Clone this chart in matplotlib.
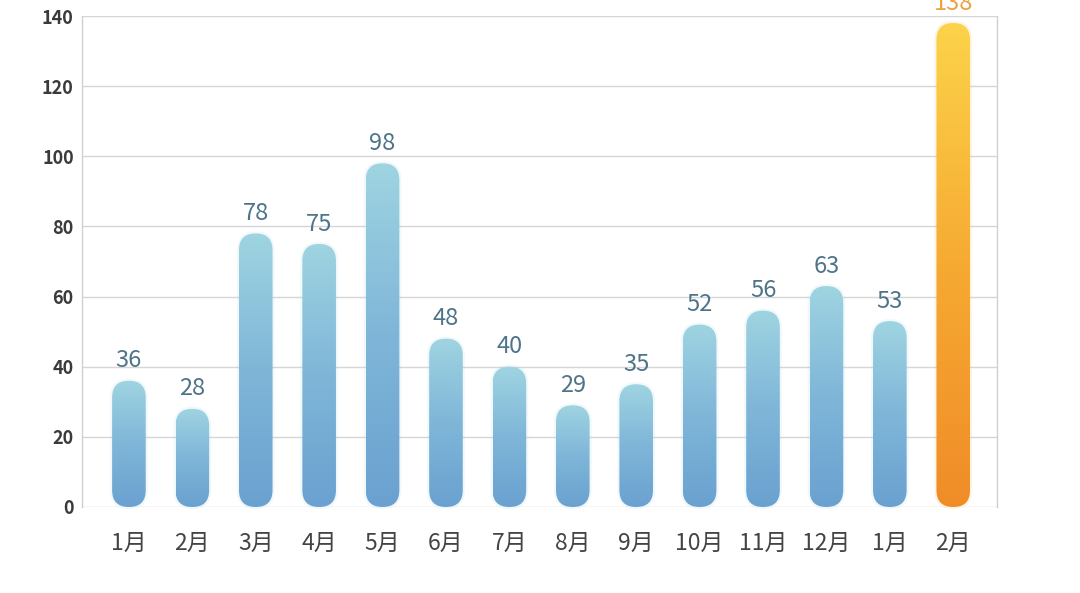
import matplotlib
matplotlib.use('Agg')
import matplotlib.pyplot as plt
import numpy as np
from matplotlib.patches import FancyBboxPatch
from matplotlib.colors import LinearSegmentedColormap

plt.rcParams['font.family'] = ['Noto Sans CJK SC', 'DejaVu Sans']

categories = ['1月', '2月', '3月', '4月', '5月', '6月', '7月', '8月', '9月',
              '10月', '11月', '12月', '1月', '2月']
values = [36, 28, 78, 75, 98, 48, 40, 29, 35, 52, 56, 63, 53, 138]
highlight = [False] * 13 + [True]
yticks = [0, 20, 40, 60, 80, 100, 120, 140]

W, H = 1080, 593
fig = plt.figure(figsize=(W / 100, H / 100), dpi=100)
L, R, T, B = 82, 997, 16, 507
ax = fig.add_axes([L / W, (H - B) / H, (R - L) / W, (B - T) / H])

xlim = (-0.74, len(values) - 1 + 0.69)
ylim = (0, 140)

px_x = (xlim[1] - xlim[0]) / (R - L)
px_y = (ylim[1] - ylim[0]) / (B - T)
aspect = px_y / px_x

blue_cmap = LinearSegmentedColormap.from_list('b', ['#6aa1d0', '#7fb6d8', '#9fd4e1'])
orange_cmap = LinearSegmentedColormap.from_list('o', ['#f08c28', '#f6aa32', '#fcd34a'])
grad = np.linspace(0, 1, 256).reshape(-1, 1)

bw = 0.53
r = bw / 2
for i, (v, h) in enumerate(zip(values, highlight)):
    x0 = i - bw / 2
    # soft halo
    halo_pad = 2.0 * px_x
    halo = FancyBboxPatch((x0 - halo_pad, -2 * px_y), bw + 2 * halo_pad, v + 4 * px_y,
                          boxstyle=f"round,pad=0,rounding_size={r + halo_pad}",
                          mutation_aspect=aspect,
                          fc=('#f7c040' if h else '#9fd0e6'), ec='none', alpha=0.15,
                          zorder=2, clip_on=False)
    ax.add_patch(halo)
    patch = FancyBboxPatch((x0, 0), bw, v,
                           boxstyle=f"round,pad=0,rounding_size={r}",
                           mutation_aspect=aspect, fc='none', ec='none', zorder=3)
    ax.add_patch(patch)
    im = ax.imshow(grad, extent=(x0, x0 + bw, 0, v), origin='lower', aspect='auto',
                   cmap=orange_cmap if h else blue_cmap, zorder=3, interpolation='bilinear')
    im.set_clip_path(patch)
    ax.annotate(str(v), (i, v), xytext=(0, 6), textcoords='offset points',
                ha='center', va='bottom', fontsize=17,
                color=('#eea040' if h else '#4e7489'), zorder=5, annotation_clip=False)

ax.set_xlim(*xlim)
ax.set_ylim(*ylim)

ax.set_yticks(yticks)
ax.set_yticklabels([str(t) for t in yticks], fontsize=13, fontweight='bold', color='#3a3a3a')
ax.set_xticks(range(len(categories)))
ax.set_xticklabels(categories, fontsize=16.5, color='#444444')
ax.tick_params(axis='y', length=0, pad=6)
ax.tick_params(axis='x', length=0, pad=18)

ax.grid(axis='y', color='#d6d6d6', lw=1)
ax.set_axisbelow(True)
for s in ['top', 'bottom']:
    ax.spines[s].set_visible(False)
for s in ['left', 'right']:
    ax.spines[s].set_color('#d0d0d0')
    ax.spines[s].set_linewidth(1)

fig.savefig('out.png', dpi=100, facecolor='white')
